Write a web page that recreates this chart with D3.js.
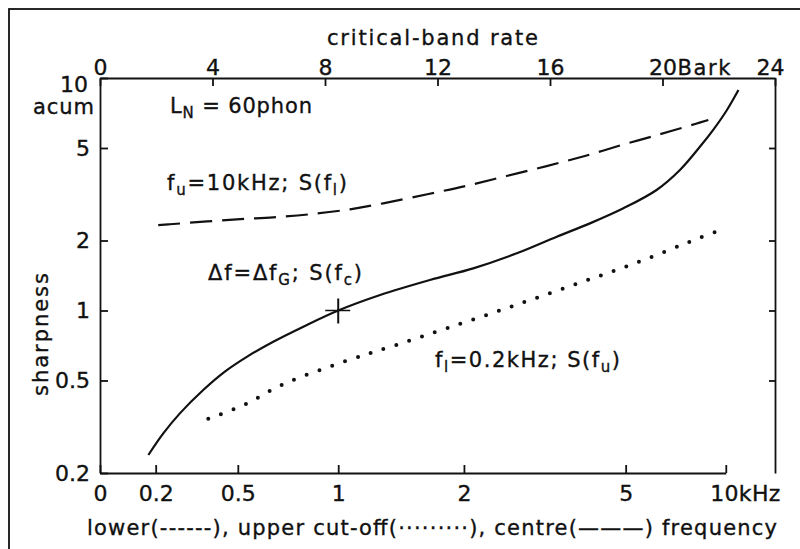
<!DOCTYPE html>
<html>
<head>
<meta charset="utf-8">
<script src="https://cdn.jsdelivr.net/npm/d3@7"></script>
<style>
  html, body { margin: 0; padding: 0; background: #fff; }
  svg { display: block; }
  text { font-family: "DejaVu Sans", sans-serif; fill: #111; stroke: #111; stroke-width: 0.35; }
</style>
</head>
<body>
<script>
// Critical-band rate axis (top), Bark
const barkTicks = [0, 4, 8, 12, 16, 20, 24];
// Frequency axis (bottom): tick values in kHz and their positions in Bark
const freqTicks = [0, 0.2, 0.5, 1, 2, 5, 10];
const freqTickBark = [0, 1.98, 4.9, 8.47, 12.94, 18.69, 22.25];
// Sharpness axis, acum
const sharpTicks = [0.2, 0.5, 1, 2, 5, 10];

// Δf = ΔfG, sharpness vs centre frequency  [Bark, acum]
const centreBark  = [1.72, 2.25, 2.84, 3.67, 4.44, 5.22, 6.16, 7.23, 8.47, 9.96, 11.73, 13.27, 14.82, 16.24, 17.42, 18.61, 19.79, 20.62, 21.33, 21.81, 22.28, 22.70];
const centreSharp = [0.239, 0.296, 0.361, 0.455, 0.546, 0.632, 0.734, 0.852, 1.0, 1.166, 1.353, 1.518, 1.762, 2.077, 2.37, 2.752, 3.298, 4.02, 5.06, 6.0, 7.25, 8.88];

// fu = 10 kHz, sharpness vs lower cut-off  [Bark, acum]
const lowerBark  = [2.07, 2.49, 4.86, 6.16, 7.47, 8.89, 10.07, 11.68, 13.04, 14.46, 15.88, 17.24, 18.55, 19.91, 21.19, 21.63];
const lowerSharp = [2.33, 2.35, 2.467, 2.517, 2.594, 2.724, 2.89, 3.17, 3.44, 3.79, 4.18, 4.62, 5.15, 5.73, 6.36, 6.60];

// fl = 0.2 kHz, sharpness vs upper cut-off  [Bark, acum]
const upperBark  = [3.85, 5.16, 6.52, 8.77, 10.43, 12.33, 14.55, 16.83, 19.10, 21.37, 22.28];
const upperSharp = [0.342, 0.395, 0.482, 0.608, 0.704, 0.838, 1.032, 1.287, 1.61, 2.065, 2.27];

// Reference point: 1 kHz centre frequency, 1 acum
const refFreq = 1, refSharp = 1;

const W = 800, H = 549;
const plot = { left: 100, right: 775, top: 78, bottom: 473 };

const svg = d3.select("body").append("svg").attr("width", W).attr("height", H);

// page frame
svg.append("rect")
  .attr("x", 9).attr("y", 9).attr("width", 1000).attr("height", 1000)
  .attr("fill", "none").attr("stroke", "#111").attr("stroke-width", 1.8);

const x = d3.scaleLinear().domain([0, 24]).range([plot.left, plot.right]);
const y = d3.scaleLog().domain([0.2, 10]).range([plot.bottom, plot.top]);
// frequency (kHz) -> pixel, piecewise through the Bark positions of the ticks
const xf = d3.scaleLinear().domain(freqTicks).range(freqTickBark.map(b => x(b)));

const FS = 21;
const NUM_FONT = "Liberation Sans, Arial, sans-serif";

// top axis: critical-band rate
const gTop = svg.append("g").attr("transform", `translate(0,${plot.top})`)
  .call(d3.axisTop(x).tickValues(barkTicks).tickSizeInner(-8).tickSizeOuter(0).tickPadding(3).tickFormat(d3.format("d")));
// bottom axis: frequency
const gBot = svg.append("g").attr("transform", `translate(0,${plot.bottom})`)
  .call(d3.axisBottom(xf).tickValues(freqTicks).tickSizeInner(-8).tickSizeOuter(0).tickPadding(12)
    .tickFormat(d => d === 10 ? "10kHz" : String(d)));
// left axis: sharpness
const gLeft = svg.append("g").attr("transform", `translate(${plot.left},0)`)
  .call(d3.axisLeft(y).tickValues(sharpTicks).tickSizeInner(-8).tickSizeOuter(0).tickPadding(10)
    .tickFormat(d => String(d)));
// right axis: ticks only
const gRight = svg.append("g").attr("transform", `translate(${plot.right},0)`)
  .call(d3.axisRight(y).tickValues([0.5, 1, 2, 5]).tickSizeInner(-6).tickSizeOuter(0).tickFormat(""));

[gTop, gBot, gLeft, gRight].forEach(g => {
  g.selectAll(".domain").attr("stroke", "#111").attr("stroke-width", 1.8);
  g.selectAll(".tick line").attr("stroke", "#111").attr("stroke-width", 1.8);
  g.selectAll("text").attr("font-size", 22).attr("fill", "#111")
    .attr("font-family", NUM_FONT);
});
gTop.selectAll(".tick").filter(d => d === 24).select("text").attr("dx", -5);
gBot.selectAll(".tick").filter(d => d === 10).select("text")
  .attr("text-anchor", "start").attr("x", -16).attr("textLength", 70).attr("lengthAdjust", "spacing");
gLeft.selectAll(".tick").filter(d => d === 10).select("text").attr("dy", "0.6em").attr("x", -12);

// unit labels
svg.append("text").attr("x", x(20) + 15).attr("y", plot.top - 3).attr("font-size", FS)
  .attr("textLength", 53).attr("lengthAdjust", "spacing").text("Bark");
svg.append("text").attr("x", 33).attr("y", 114).attr("font-size", FS)
  .attr("textLength", 61).attr("lengthAdjust", "spacing").text("acum");

// axis titles
svg.append("text").attr("x", 327).attr("y", 45).attr("font-size", FS)
  .attr("textLength", 211).attr("lengthAdjust", "spacing").text("critical-band rate");
svg.append("text").attr("transform", "translate(48,396) rotate(-90)").attr("font-size", FS)
  .attr("textLength", 123).attr("lengthAdjust", "spacing").text("sharpness");
svg.append("text").attr("x", 87).attr("y", 535).attr("font-size", FS)
  .attr("textLength", 690).attr("lengthAdjust", "spacing")
  .text("lower(------), upper cut-off(·········), centre(———) frequency");

// curves
const line = d3.line().x(d => x(d[0])).y(d => y(d[1])).curve(d3.curveCatmullRom.alpha(0.5));
const zip = (a, b) => a.map((v, i) => [v, b[i]]);

svg.append("path").datum(zip(centreBark, centreSharp))
  .attr("d", line).attr("fill", "none").attr("stroke", "#111").attr("stroke-width", 2.2);
svg.append("path").datum(zip(lowerBark, lowerSharp))
  .attr("d", line).attr("fill", "none").attr("stroke", "#111").attr("stroke-width", 2.2)
  .attr("stroke-dasharray", "22,10");
svg.append("path").datum(zip(upperBark, upperSharp))
  .attr("d", line).attr("fill", "none").attr("stroke", "#111").attr("stroke-width", 4)
  .attr("stroke-linecap", "round").attr("stroke-dasharray", "0,13.5");

// cross at the reference point
const cx = xf(refFreq), cy = y(refSharp);
svg.append("line").attr("x1", cx).attr("x2", cx).attr("y1", cy - 12).attr("y2", cy + 13)
  .attr("stroke", "#111").attr("stroke-width", 2);
svg.append("line").attr("x1", cx - 13).attr("x2", cx + 12).attr("y1", cy).attr("y2", cy)
  .attr("stroke", "#111").attr("stroke-width", 1.5);

// annotations with subscripts
function label(px, py, parts, len) {
  const t = svg.append("text").attr("x", px).attr("y", py).attr("font-size", FS);
  let shifted = false;
  parts.forEach(p => {
    const sub = Array.isArray(p);
    const s = t.append("tspan").text(sub ? p[0] : p);
    if (sub && !shifted) { s.attr("dy", 5).attr("font-size", 15); shifted = true; }
    else if (sub) { s.attr("font-size", 15); }
    else if (shifted) { s.attr("dy", -5); shifted = false; }
  });
  if (len) t.attr("textLength", len).attr("lengthAdjust", "spacing");
}
label(170, 113, ["L", ["N"], " = 60phon"], 142);
label(167, 190, ["f", ["u"], "=10kHz;  S(f", ["l"], ")"], 180);
label(208, 280, ["Δf=Δf", ["G"], "; S(f", ["c"], ")"], 154);
label(435, 367, ["f", ["l"], "=0.2kHz; S(f", ["u"], ")"], 185);
</script>
</body>
</html>
